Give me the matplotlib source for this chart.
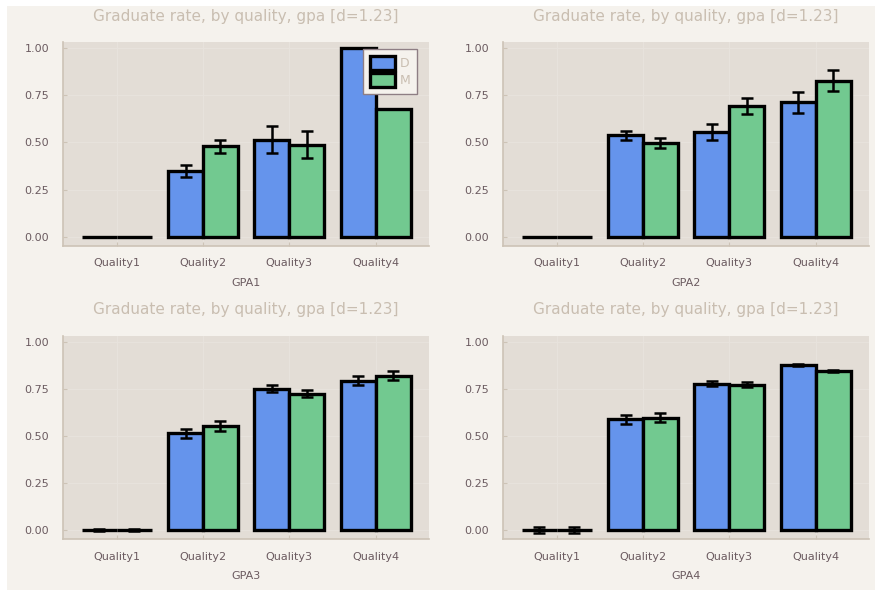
import numpy as np
import matplotlib
matplotlib.use("Agg")
import matplotlib.pyplot as plt
from matplotlib.patches import Rectangle

# Graduation rates by applicant quality, split by GPA band
categories = ["Quality1", "Quality2", "Quality3", "Quality4"]
series_names = ["D", "M"]
panel_labels = ["GPA1", "GPA2", "GPA3", "GPA4"]
title = "Graduate rate, by quality, gpa [d=1.23]"

gpa1_d = [0.0, 0.350, 0.514, 1.000]
gpa1_d_err = [0.0, 0.032, 0.072, 0.0]
gpa1_m = [0.0, 0.479, 0.488, 0.678]
gpa1_m_err = [0.0, 0.033, 0.072, 0.0]

gpa2_d = [0.0, 0.537, 0.553, 0.711]
gpa2_d_err = [0.0, 0.025, 0.042, 0.057]
gpa2_m = [0.0, 0.497, 0.694, 0.826]
gpa2_m_err = [0.0, 0.027, 0.042, 0.055]

gpa3_d = [0.0, 0.513, 0.750, 0.793]
gpa3_d_err = [0.004, 0.025, 0.018, 0.023]
gpa3_m = [0.0, 0.551, 0.724, 0.818]
gpa3_m_err = [0.004, 0.025, 0.017, 0.024]

gpa4_d = [0.0, 0.588, 0.777, 0.876]
gpa4_d_err = [0.016, 0.024, 0.013, 0.005]
gpa4_m = [0.0, 0.595, 0.772, 0.844]
gpa4_m_err = [0.016, 0.024, 0.013, 0.005]

panels = [
    (gpa1_d, gpa1_d_err, gpa1_m, gpa1_m_err),
    (gpa2_d, gpa2_d_err, gpa2_m, gpa2_m_err),
    (gpa3_d, gpa3_d_err, gpa3_m, gpa3_m_err),
    (gpa4_d, gpa4_d_err, gpa4_m, gpa4_m_err),
]

# Colours
outer_bg = "#f5f2ed"
plot_bg = "#e3ddd6"
grid_col = "#e8e3dd"
spine_col = "#cdc3b6"
tick_col = "#6b5b60"
title_col = "#c9beb1"
blue = "#6594ec"
green = "#72c990"

W, H = 875, 590
fig = plt.figure(figsize=(W / 100, H / 100), dpi=100, facecolor="white")
fig.patches.append(Rectangle((7 / W, 0), 1 - 7 / W, 1 - 6 / H,
                             transform=fig.transFigure, facecolor=outer_bg,
                             edgecolor="none", zorder=-10))

# axes rectangles in pixels: (left, top, right, bottom)
rects = [(63, 42, 429, 246), (503, 42, 869, 246),
         (63, 336, 429, 539), (503, 336, 869, 539)]

bw = 0.405
x = np.arange(1, len(categories) + 1)

for i, (d, de, m, me) in enumerate(panels):
    l, t, r, b = rects[i]
    ax = fig.add_axes([l / W, 1 - b / H, (r - l) / W, (b - t) / H])
    ax.set_facecolor(plot_bg)
    ax.set_xlim(0.378, 4.618)
    ax.set_ylim(-0.048, 1.03)
    ax.set_axisbelow(True)
    ax.grid(True, color=grid_col, lw=0.7)

    ax.bar(x - bw / 2, d, width=bw, color=blue, edgecolor="black",
           linewidth=2.4, label=series_names[0], zorder=2)
    ax.bar(x + bw / 2, m, width=bw, color=green, edgecolor="black",
           linewidth=2.4, label=series_names[1], zorder=2)
    for xs, vals, errs in ((x - bw / 2, d, de), (x + bw / 2, m, me)):
        for xi, v, e in zip(xs, vals, errs):
            if e > 0:
                ax.errorbar(xi, v, yerr=e, fmt="none", ecolor="black",
                            elinewidth=1.8, capsize=4.5, capthick=1.8,
                            zorder=3)

    ax.set_xticks(x)
    ax.set_xticklabels(categories)
    ax.set_yticks([0, 0.25, 0.5, 0.75, 1.0])
    ax.set_yticklabels(["0.00", "0.25", "0.50", "0.75", "1.00"])
    ax.tick_params(axis="both", direction="in", length=3, width=0.8,
                   color=spine_col, labelcolor=tick_col, labelsize=8)
    ax.tick_params(axis="y", pad=10)
    ax.tick_params(axis="x", pad=9)
    for s in ("top", "right"):
        ax.spines[s].set_visible(False)
    for s in ("left", "bottom"):
        ax.spines[s].set_color(spine_col)
        ax.spines[s].set_linewidth(1.2)

    ax.set_xlabel(panel_labels[i], color=tick_col, fontsize=8, labelpad=7)
    ax.text(0.5, 1 + 26 / (b - t), title, transform=ax.transAxes,
            ha="center", va="center", fontsize=11, color=title_col)

    if i == 0:
        leg = ax.legend(loc="upper right", bbox_to_anchor=(0.967, 0.965),
                        frameon=True, fancybox=False, fontsize=9,
                        handlelength=2.0, handleheight=1.35,
                        labelcolor=title_col, borderpad=0.55,
                        labelspacing=0.2, handletextpad=0.35,
                        borderaxespad=0.0)
        leg.get_frame().set_facecolor(outer_bg)
        leg.get_frame().set_edgecolor("#8e7e84")
        leg.get_frame().set_linewidth(1.0)
        leg.get_frame().set_alpha(1)

fig.savefig("out.png", dpi=100, facecolor=fig.get_facecolor())
